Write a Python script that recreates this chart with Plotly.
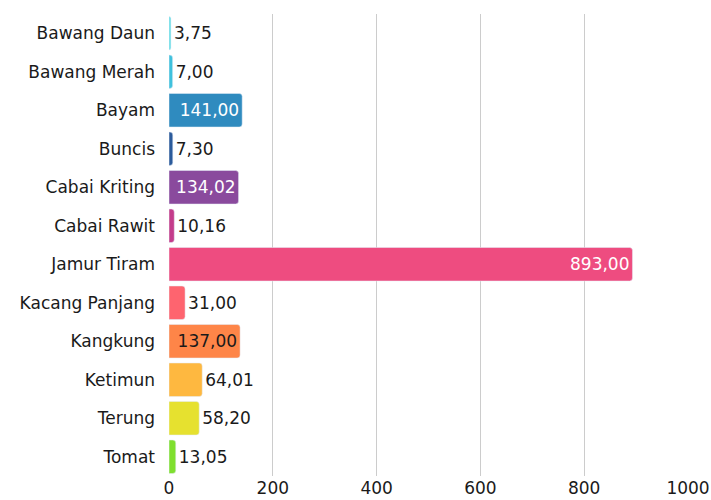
import plotly.graph_objects as go

categories = ['Bawang Daun', 'Bawang Merah', 'Bayam', 'Buncis', 'Cabai Kriting',
              'Cabai Rawit', 'Jamur Tiram', 'Kacang Panjang', 'Kangkung',
              'Ketimun', 'Terung', 'Tomat']
values = [3.75, 7.00, 141.00, 7.30, 134.02, 10.16, 893.00, 31.00, 137.00,
          64.01, 58.20, 13.05]
colors = ['#63dde6', '#3fc1dd', '#2f8bbf', '#2c5b9b', '#8a4a9d', '#c43c8b',
          '#ee4c80', '#fe646f', '#fe8548', '#feb840', '#e6e12f', '#7fdf2f']

labels = [f'{v:,.2f}'.replace('.', ',') for v in values]
positions = ['inside' if v > 100 else 'outside' for v in values]
text_colors = ['#1a1a1a' if c == 'Kangkung' or v < 100 else '#ffffff'
               for c, v in zip(categories, values)]

fig = go.Figure(
    go.Bar(
        x=values,
        y=categories,
        orientation='h',
        marker=dict(color=colors),
        text=labels,
        textposition=positions,
        insidetextanchor='end',
        textfont=dict(color=text_colors, size=17),
        cliponaxis=False,
    )
)

fig.update_layout(
    width=711,
    height=500,
    margin=dict(l=169, r=23, t=14, b=24),
    plot_bgcolor='white',
    paper_bgcolor='white',
    font=dict(family='DejaVu Sans', size=17, color='#1a1a1a'),
    bargap=0.13,
    barcornerradius=3,
    showlegend=False,
)
fig.update_xaxes(
    range=[0, 1000],
    dtick=200,
    showgrid=True,
    gridcolor='#cccccc',
    zeroline=False,
    ticks='',
    automargin=False,
)
fig.update_yaxes(
    autorange='reversed',
    ticks='',
    ticklabelstandoff=13,
    automargin=False,
)

# drop the default body margin so the figure fills the window exactly
fig.write_html(
    'out.html',
    config={'displayModeBar': False},
    post_script="document.body.style.margin = '0';",
)
